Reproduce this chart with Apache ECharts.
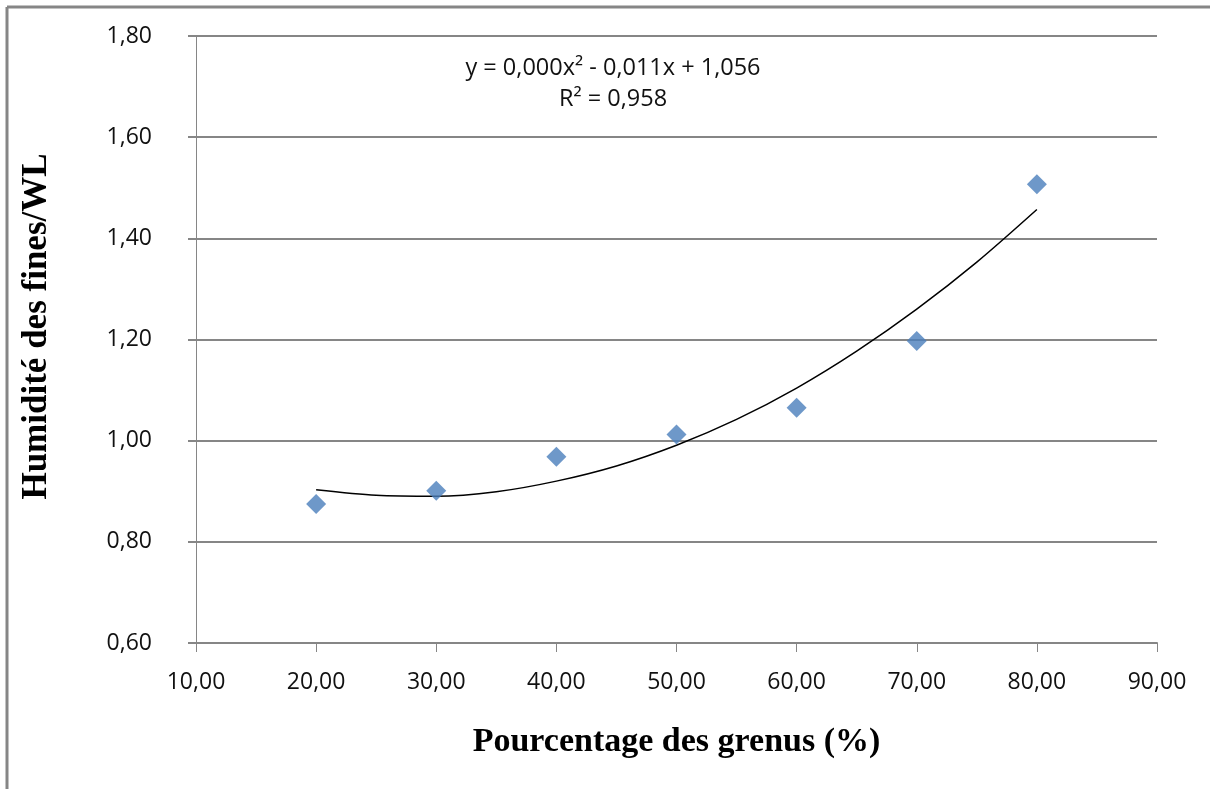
<!DOCTYPE html>
<html>
<head>
<meta charset="utf-8">
<style>
  html, body { margin: 0; padding: 0; background: #fff; }
  #chart { width: 1210px; height: 789px; }
</style>
<script src="https://cdn.jsdelivr.net/npm/echarts@6/dist/echarts.min.js"></script>
</head>
<body>
<div id="chart"></div>
<script>
// points mesurés
var grenus = [20, 30, 40, 50, 60, 70, 80];
var humidite = [0.875, 0.901, 0.968, 1.012, 1.065, 1.197, 1.507];

// courbe de tendance
var trendX = [20, 25, 30, 35, 40, 45, 50, 55, 60, 65, 70, 75, 80];
var trendY = [0.903, 0.892, 0.890, 0.899, 0.920, 0.950, 0.991, 1.042, 1.104, 1.177, 1.260, 1.353, 1.457];

var equation = ['y = 0,000x\u00b2 - 0,011x + 1,056', 'R\u00b2 = 0,958'];

var pointData = [];
for (var i in grenus) {
	pointData.push([grenus[i], humidite[i]]);
}
var trendData = [];
for (var j in trendX) {
	trendData.push([trendX[j], trendY[j]]);
}

function virgule(v, d) {
	return v.toFixed(d).replace('.', ',');
}

var myChart = echarts.init(document.getElementById('chart'));
var option = {
	animation: false,
	backgroundColor: '#fff',
	grid: {
		left: 196,
		right: 53,
		top: 36,
		bottom: 146
	},
	graphic: [
		{ type: 'line', shape: { x1: 7, y1: 7, x2: 7, y2: 789 }, style: { stroke: '#868686', lineWidth: 3 } },
		{ type: 'line', shape: { x1: 7, y1: 7, x2: 1210, y2: 7 }, style: { stroke: '#868686', lineWidth: 3 } },
		{
			type: 'text', x: 613, y: 56,
			style: {
				text: equation[0],
				align: 'center',
				font: '23.5px "Open Sans", sans-serif',
				fill: '#111'
			}
		},
		{
			type: 'text', x: 613, y: 87,
			style: {
				text: equation[1],
				align: 'center',
				font: '23.5px "Open Sans", sans-serif',
				fill: '#111'
			}
		}
	],
	xAxis: {
		type: 'value',
		min: 10,
		max: 90,
		interval: 10,
		name: 'Pourcentage des grenus (%)',
		nameLocation: 'middle',
		nameGap: 82,
		nameTextStyle: {
			fontFamily: '"Liberation Serif", serif',
			fontWeight: 'bold',
			fontSize: 34,
			color: '#000'
		},
		axisLine: { lineStyle: { color: '#868686', width: 2 } },
		axisTick: { show: true, length: 9, lineStyle: { color: '#868686', width: 1 } },
		axisLabel: {
			margin: 28,
			fontFamily: '"Open Sans", sans-serif',
			fontSize: 23,
			color: '#111',
			formatter: function (v) { return virgule(v, 2); }
		},
		splitLine: { show: false }
	},
	yAxis: {
		type: 'value',
		min: 0.6,
		max: 1.8,
		interval: 0.2,
		name: 'Humidité des fines/WL',
		nameLocation: 'middle',
		nameGap: 142,
		nameTextStyle: {
			fontFamily: '"Liberation Serif", serif',
			fontWeight: 'bold',
			fontSize: 35,
			color: '#000',
			padding: [0, 0, 0, 26]
		},
		axisLine: { show: true, lineStyle: { color: '#868686', width: 1 } },
		axisTick: { show: true, length: 8, lineStyle: { color: '#868686', width: 2 } },
		axisLabel: {
			margin: 44,
			fontFamily: '"Open Sans", sans-serif',
			fontSize: 23,
			color: '#111',
			formatter: function (v) { return virgule(v, 2); }
		},
		splitLine: { show: true, lineStyle: { color: '#868686', width: 2 } }
	},
	series: [
		{
			name: 'tendance',
			type: 'line',
			data: trendData,
			smooth: 0.3,
			showSymbol: false,
			lineStyle: { color: '#000', width: 1.5 },
			z: 2
		},
		{
			name: 'mesures',
			type: 'scatter',
			data: pointData,
			symbol: 'diamond',
			symbolSize: [20, 20],
			itemStyle: { color: '#4A7EBB' },
			z: 3
		}
	]
};
myChart.setOption(option, true);
</script>
</body>
</html>
